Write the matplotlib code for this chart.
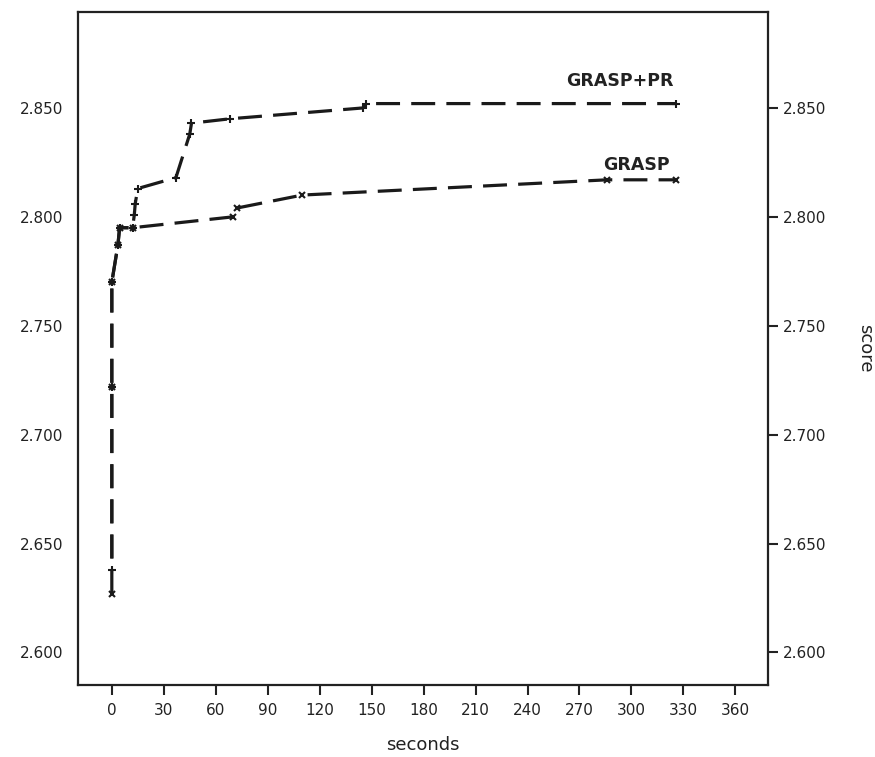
import matplotlib.pyplot as plt

# values
grasp_pr_t = [0, 0, 0, 3.5, 4.5, 12, 13, 13.5, 15, 37, 45, 46, 68, 145, 147, 326]
grasp_pr_score = [2.638, 2.722, 2.770, 2.787, 2.795, 2.795, 2.801, 2.806, 2.813,
                  2.818, 2.838, 2.843, 2.845, 2.850, 2.852, 2.852]

grasp_t = [0, 0, 0, 3.5, 4.5, 12, 70, 72, 110, 286, 326]
grasp_score = [2.627, 2.722, 2.770, 2.787, 2.795, 2.795, 2.800, 2.804, 2.810,
               2.817, 2.817]

x_ticks = list(range(0, 361, 30))
y_ticks = [2.600, 2.650, 2.700, 2.750, 2.800, 2.850]

fig = plt.figure(figsize=(8.75, 7.57), dpi=100)
ax = fig.add_axes([0.089, 0.095, 0.789, 0.889])

lw = 2.3
ylim = (2.585, 2.894)
# shift the PR dash phase so the shared vertical part lines up with GRASP
px_per_unit = 0.889 * 757 / (ylim[1] - ylim[0])
shift = (grasp_pr_score[0] - grasp_score[0]) * px_per_unit * 0.72 / lw
ax.plot(grasp_pr_t, grasp_pr_score, color='#1a1a1a', linestyle=(shift, (7.5, 3.5)),
        linewidth=lw, marker='+', markersize=6, markeredgewidth=1.5)
ax.plot(grasp_t, grasp_score, color='#1a1a1a', linestyle=(0, (7.5, 3.5)),
        linewidth=lw, marker='x', markersize=4.5, markeredgewidth=1.5)

ax.text(293.5, 2.8624, 'GRASP+PR', ha='center', va='center', fontsize=12.5,
        fontweight='bold', color='#222222')
ax.text(303, 2.8238, 'GRASP', ha='center', va='center', fontsize=12.5,
        fontweight='bold', color='#222222')

ax.set_xlim(-19.6, 379)
ax.set_ylim(*ylim)
ax.set_xticks(x_ticks)
ax.set_yticks(y_ticks)
ax.set_yticklabels(['%.3f' % v for v in y_ticks])

for s in ax.spines.values():
    s.set_linewidth(1.6)
    s.set_color('#222222')

ax.tick_params(axis='both', direction='out', length=7, width=1.5, labelsize=11,
               colors='#222222')
ax.tick_params(axis='y', left=False, right=True, labelleft=True, labelright=True)
ax.tick_params(axis='x', pad=6)

ax.set_xlabel('seconds', fontsize=13, labelpad=13, color='#222222')
ax2 = ax.secondary_yaxis('right')
ax2.set_yticks([])
ax2.spines['right'].set_visible(False)
ax2.set_ylabel('score', fontsize=13, rotation=-90, labelpad=76, color='#222222')

fig.savefig('out.png', dpi=100)
